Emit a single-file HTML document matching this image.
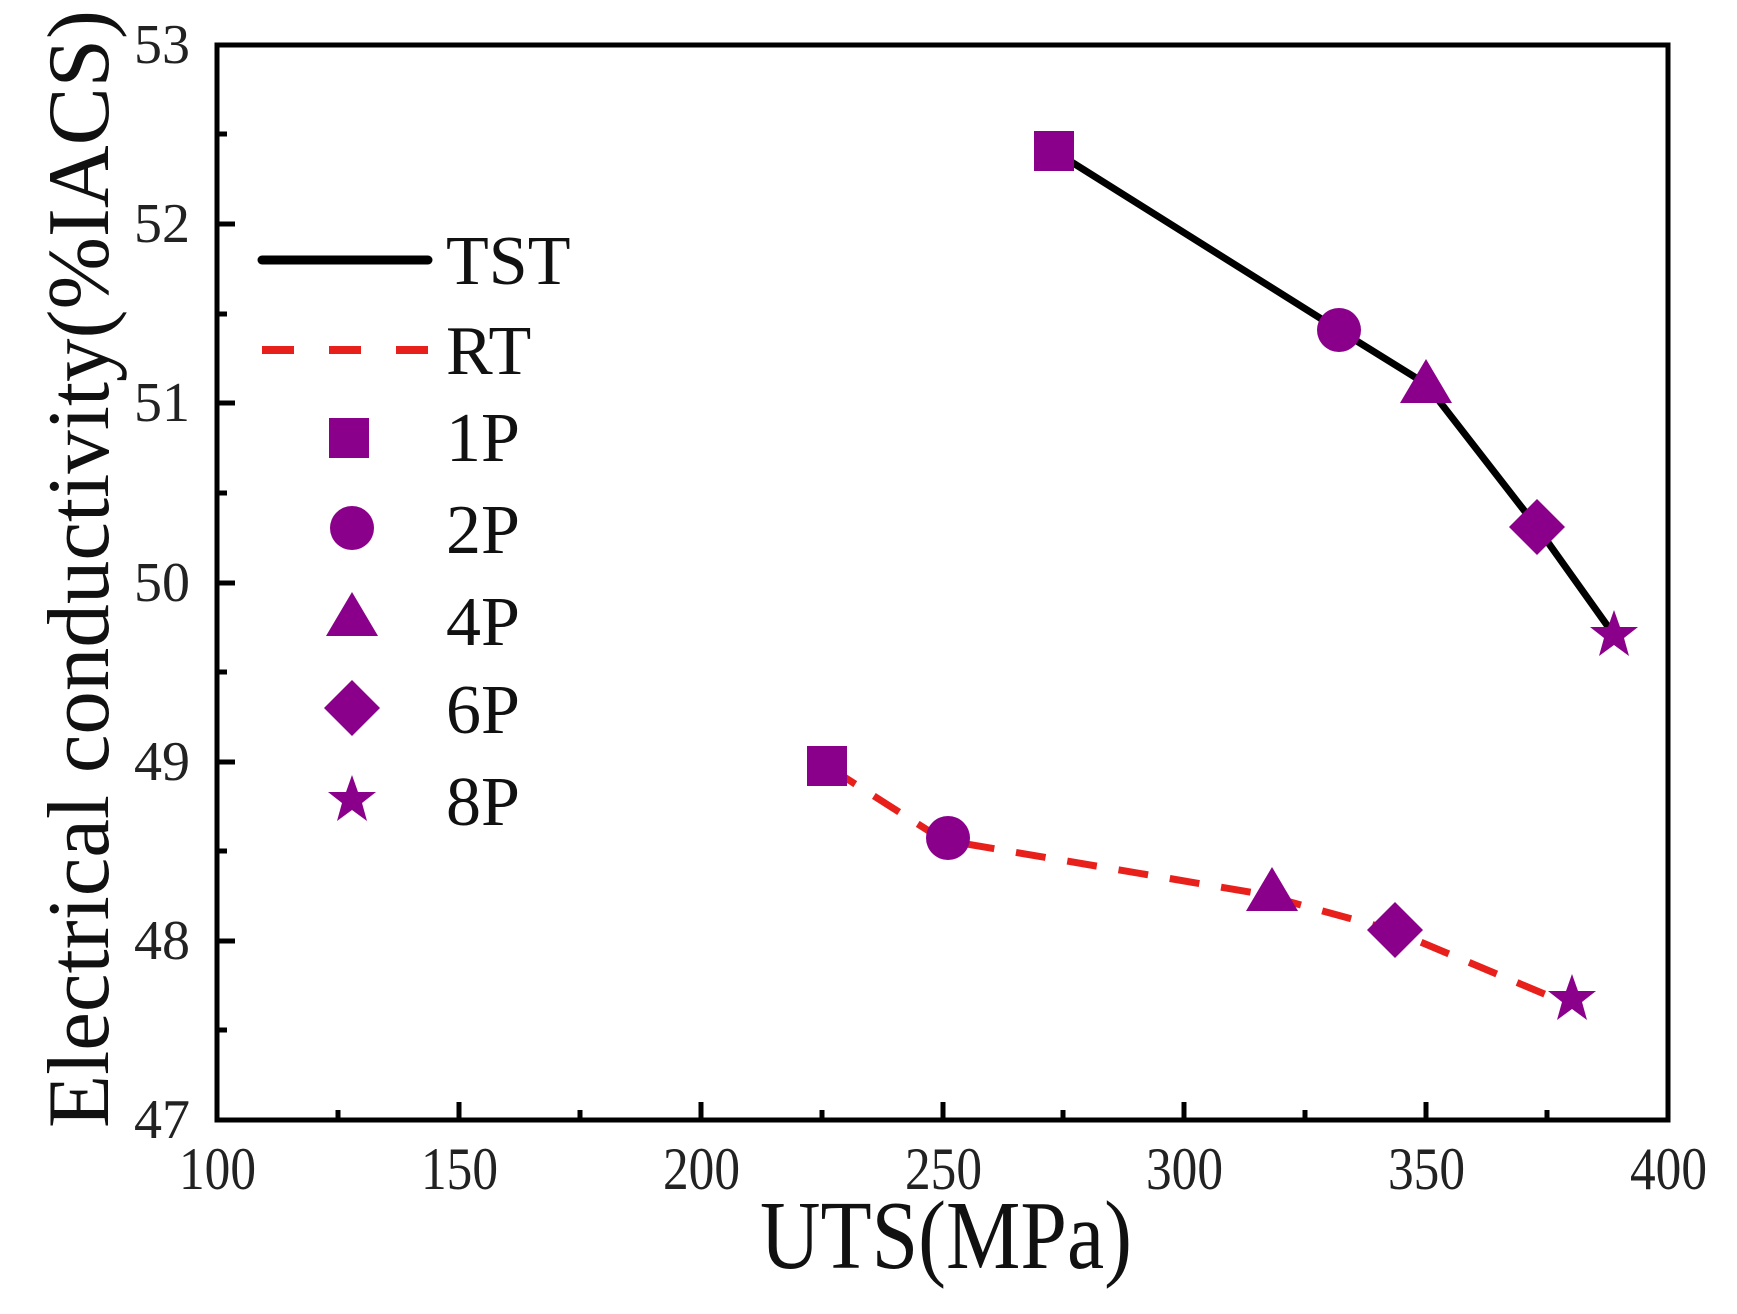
<!DOCTYPE html>
<html><head><meta charset="utf-8"><style>html,body{margin:0;padding:0;background:#fff}svg{display:block}</style></head>
<body>
<svg width="1737" height="1314" viewBox="0 0 1737 1314" xmlns="http://www.w3.org/2000/svg" font-family="Liberation Serif, serif">
<defs>
<g id="sq"><rect x="-20" y="-20" width="40" height="40" fill="#8B008B"/></g>
<g id="ci"><circle r="22" fill="#8B008B"/></g>
<g id="tr"><polygon points="0,-25 26,19 -26,19" fill="#8B008B"/></g>
<g id="di"><polygon points="0,-28 28,0 0,28 -28,0" fill="#8B008B"/></g>
<g id="st"><polygon points="0,-25 6,-8 24,-8 10,3 15,21 0,10 -15,21 -10,3 -24,-8 -6,-8" fill="#8B008B"/></g>
</defs>
<g stroke="#000" stroke-width="5">
<line x1="459" y1="1120" x2="459" y2="1102"/><line x1="701" y1="1120" x2="701" y2="1102"/><line x1="943" y1="1120" x2="943" y2="1102"/><line x1="1184" y1="1120" x2="1184" y2="1102"/><line x1="1426" y1="1120" x2="1426" y2="1102"/>
<line x1="338" y1="1120" x2="338" y2="1110"/><line x1="580" y1="1120" x2="580" y2="1110"/><line x1="822" y1="1120" x2="822" y2="1110"/><line x1="1063" y1="1120" x2="1063" y2="1110"/><line x1="1305" y1="1120" x2="1305" y2="1110"/><line x1="1547" y1="1120" x2="1547" y2="1110"/>
<line x1="217" y1="224" x2="235" y2="224"/><line x1="217" y1="403" x2="235" y2="403"/><line x1="217" y1="583" x2="235" y2="583"/><line x1="217" y1="762" x2="235" y2="762"/><line x1="217" y1="941" x2="235" y2="941"/>
<line x1="217" y1="134" x2="227" y2="134"/><line x1="217" y1="314" x2="227" y2="314"/><line x1="217" y1="493" x2="227" y2="493"/><line x1="217" y1="672" x2="227" y2="672"/><line x1="217" y1="851" x2="227" y2="851"/><line x1="217" y1="1030" x2="227" y2="1030"/>
</g>
<rect x="217" y="45" width="1451" height="1075" fill="none" stroke="#000" stroke-width="5"/>
<g font-size="56" fill="#222" text-anchor="end">
<text x="190" y="63" textLength="56" lengthAdjust="spacingAndGlyphs">53</text><text x="190" y="242" textLength="56" lengthAdjust="spacingAndGlyphs">52</text><text x="190" y="421" textLength="56" lengthAdjust="spacingAndGlyphs">51</text><text x="190" y="601" textLength="56" lengthAdjust="spacingAndGlyphs">50</text><text x="190" y="780" textLength="56" lengthAdjust="spacingAndGlyphs">49</text><text x="190" y="959" textLength="56" lengthAdjust="spacingAndGlyphs">48</text><text x="190" y="1138" textLength="56" lengthAdjust="spacingAndGlyphs">47</text>
</g>
<g font-size="60" fill="#222">
<text x="179" y="1189" textLength="77" lengthAdjust="spacingAndGlyphs">100</text><text x="421" y="1189" textLength="77" lengthAdjust="spacingAndGlyphs">150</text><text x="663" y="1189" textLength="77" lengthAdjust="spacingAndGlyphs">200</text><text x="905" y="1189" textLength="77" lengthAdjust="spacingAndGlyphs">250</text><text x="1146" y="1189" textLength="77" lengthAdjust="spacingAndGlyphs">300</text><text x="1388" y="1189" textLength="77" lengthAdjust="spacingAndGlyphs">350</text><text x="1630" y="1189" textLength="77" lengthAdjust="spacingAndGlyphs">400</text>
</g>
<text x="760" y="1268" font-size="98" fill="#111" textLength="372" lengthAdjust="spacingAndGlyphs">UTS(MPa)</text>
<text transform="translate(108,1128) rotate(-90)" font-size="88" fill="#111" textLength="1118" lengthAdjust="spacingAndGlyphs">Electrical conductivity(%IACS)</text>
<polyline points="1054,151 1339,330 1426,384 1537,527 1614,635" fill="none" stroke="#000" stroke-width="7"/>
<polyline points="830,768 943,840 1261,894 1392,930 1561,1001" fill="none" stroke="#e8201c" stroke-width="7" stroke-dasharray="30,22"/>
<use href="#sq" x="1054" y="151"/><use href="#ci" x="1339" y="330"/><use href="#tr" x="1426" y="384"/><use href="#di" x="1537" y="527"/><use href="#st" x="1614" y="635"/>
<use href="#sq" x="827" y="766"/><use href="#ci" x="948" y="838"/><use href="#tr" x="1272" y="892"/><use href="#di" x="1395" y="930"/><use href="#st" x="1572" y="999"/>
<line x1="262" y1="260" x2="428" y2="260" stroke="#000" stroke-width="9" stroke-linecap="round"/>
<line x1="262" y1="350" x2="428" y2="350" stroke="#e8201c" stroke-width="8" stroke-dasharray="32,35"/>
<g font-size="70" fill="#111">
<text x="446" y="284">TST</text><text x="446" y="374">RT</text><text x="446" y="461">1P</text><text x="446" y="553">2P</text><text x="446" y="645">4P</text><text x="446" y="733">6P</text><text x="446" y="825">8P</text>
</g>
<use href="#sq" x="349" y="438"/><use href="#ci" x="352" y="528"/><use href="#tr" x="352" y="617"/><use href="#di" x="352" y="708"/><use href="#st" x="352" y="800"/>
</svg>
</body></html>
